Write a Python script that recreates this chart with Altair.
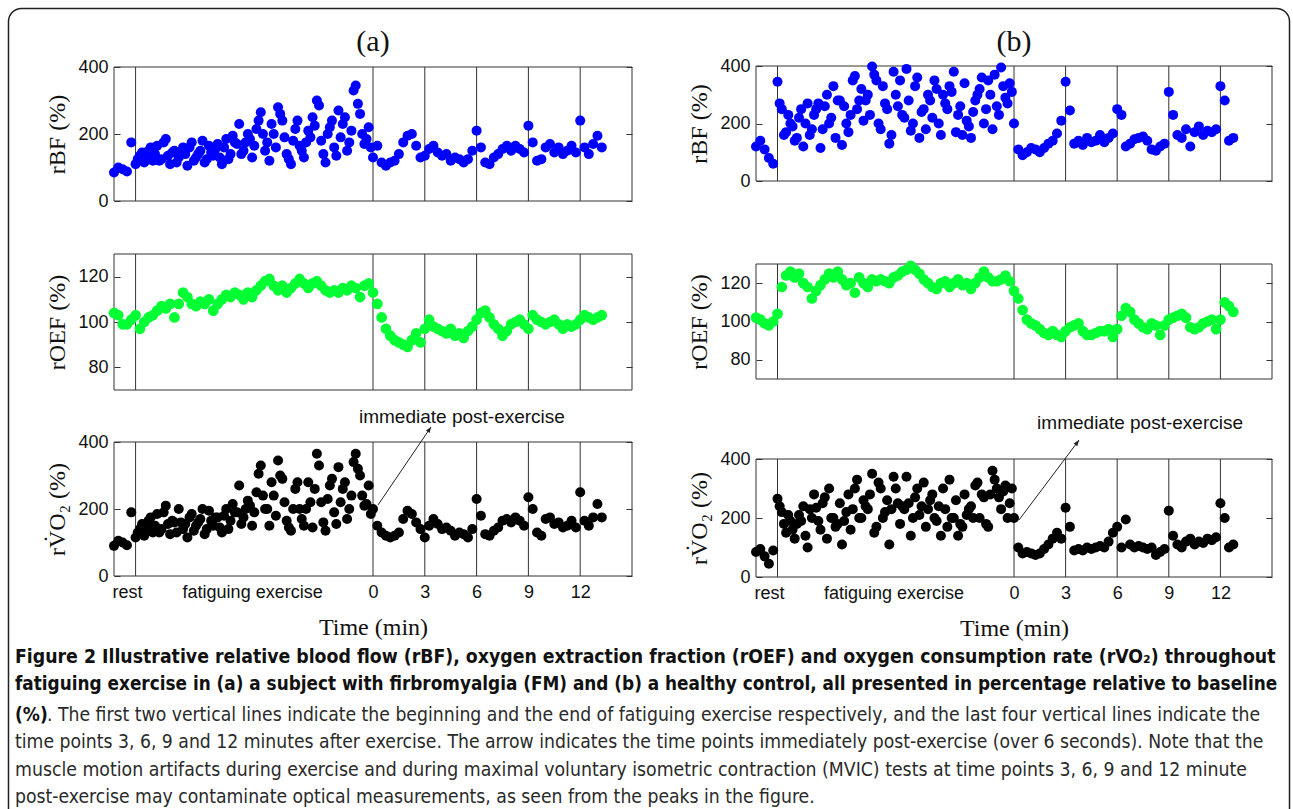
import altair as alt
import pandas as pd

# ---------------- data ----------------
T0 = -15.0      # left end of the time axis (display units, exercise compressed)
STEP = 0.25
T0_EX2 = -13.625  # start of the second (interleaved) set of exercise samples

EVENT_LINES = [-13.75, 0, 3, 6, 9, 12]
X_LABEL_VALUES = [-14.25, -7.0, 0, 3, 6, 9, 12]
X_LABEL_TEXT = ["rest", "fatiguing exercise", "0", "3", "6", "9", "12"]

# (a) subject with FM
a_rbf = [85, 100, 95, 88, 175,
         110, 135, 115, 150, 120, 165, 125, 185, 110, 150,
         130, 160, 105, 175, 130, 150, 115, 165, 135, 170,
         110, 185, 140, 175, 230, 150, 200, 130, 215, 265,
         150, 120, 200, 280, 240, 140, 110, 215, 165, 130,
         210, 250, 300, 180, 115, 220, 160, 270, 230, 150,
         210, 345, 260, 170, 220,
         130, 165, 115, 105, 115, 120, 140, 175, 195, 200,
         165, 130, 135, 155, 165, 145, 135, 140, 120, 130,
         125, 115, 125, 150, 210, 160, 115, 110, 130, 140,
         155, 165, 150, 165, 155, 145, 225, 175, 120, 125,
         160, 170, 145, 160, 140, 150, 165, 145, 240, 160,
         140, 170, 195, 160]
a_rbf_ex2 = [125, 145, 130, 160, 140, 120, 175, 135, 145, 115,
             145, 140, 160, 120, 140, 180, 125, 145, 155, 130,
             160, 125, 195, 170, 140, 175, 185, 165, 240, 200,
             175, 230, 160, 260, 190, 125, 180, 240, 150, 175,
             190, 225, 285, 140, 200, 240, 135, 190, 250, 175,
             330, 290, 200, 185, 160]
a_roef = [104, 103, 99, 99, 101, 103, 97, 100, 102, 103,
          105, 107, 106, 108, 102, 108, 113, 111, 108, 107,
          109, 108, 110, 105, 108, 110, 112, 111, 113, 112,
          110, 113, 111, 114, 116, 118, 119, 116, 114, 116,
          113, 115, 117, 119, 117, 115, 117, 118, 116, 114,
          113, 114, 113, 115, 114, 116, 115, 111, 116, 117,
          113, 108, 102, 97, 94, 92, 91, 90, 89, 92,
          95, 91, 97, 101, 98, 97, 96, 95, 97, 94,
          95, 93, 96, 98, 101, 104, 105, 102, 99, 97,
          94, 96, 99, 100, 101, 99, 97, 103, 101, 100,
          99, 100, 101, 99, 97, 99, 98, 99, 101, 103,
          102, 101, 102, 103]
a_rvo2 = [90, 105, 100, 92, 190,
          115, 140, 120, 165, 130, 185, 140, 210, 125, 160,
          200, 140, 115, 185, 150, 170, 125, 195, 150, 175,
          130, 200, 165, 190, 270, 175, 225, 150, 250, 330,
          200, 150, 240, 345, 290, 165, 135, 260, 200, 150,
          280, 145, 365, 220, 135, 270, 190, 325, 260, 170,
          240, 365, 300, 210, 270,
          200, 150, 130, 120, 115, 120, 130, 170, 195, 185,
          160, 140, 115, 150, 170, 155, 140, 145, 135, 120,
          130, 125, 115, 140, 230, 180, 125, 120, 135, 145,
          165, 170, 160, 175, 165, 150, 235, 200, 130, 120,
          170, 175, 155, 160, 145, 150, 165, 145, 250, 165,
          150, 175, 215, 175]
a_rvo2_ex2 = [130, 155, 145, 175, 150, 130, 190, 155, 165, 130,
              160, 155, 175, 135, 160, 200, 140, 165, 175, 145,
              180, 140, 215, 190, 155, 200, 210, 190, 305, 240,
              200, 280, 180, 300, 220, 145, 200, 280, 170, 200,
              220, 260, 330, 160, 230, 290, 155, 220, 280, 200,
              340, 320, 240, 215, 185]

# (b) healthy control
b_rbf = [120, 140, 110, 80, 60,
         345, 250, 170, 200, 140, 220, 120, 270, 180, 250,
         115, 260, 200, 330, 280, 125, 200, 230, 365, 280,
         210, 300, 398, 350, 180, 270, 130, 380, 260, 230,
         390, 175, 330, 150, 250, 300, 220, 320, 160, 270,
         330, 380, 230, 160, 210, 150, 280, 320, 200, 350,
         180, 260, 395, 290, 340,
         200, 110, 90, 100, 115, 110, 100, 115, 130, 140,
         165, 210, 345, 245, 130, 140, 125, 150, 135, 140,
         160, 135, 150, 165, 250, 230, 120, 130, 145, 150,
         155, 140, 110, 105, 120, 130, 310, 230, 160, 150,
         180, 120, 170, 190, 160, 175, 170, 180, 330, 280,
         140, 150]
b_rbf_ex2 = [270, 160, 230, 190, 150, 250, 200, 160, 230, 270,
             180, 300, 220, 150, 280, 260, 170, 350, 250, 320,
             280, 230, 370, 200, 330, 250, 160, 300, 350, 220,
             280, 200, 360, 240, 180, 280, 350, 200, 300, 250,
             310, 170, 260, 340, 190, 240, 300, 360, 250, 300,
             370, 230, 330, 270, 310]
b_roef = [102, 101, 99, 98, 100, 104, 118, 124, 126, 123,
          125, 120, 118, 112, 116, 119, 122, 125, 123, 126,
          122, 119, 120, 115, 123, 120, 118, 122, 121, 122,
          121, 120, 123, 124, 126, 127, 129, 127, 125, 122,
          120, 118, 117, 120, 121, 118, 120, 122, 119, 120,
          117, 120, 123, 126, 123, 121, 121, 122, 124, 121,
          116, 112, 106, 101, 99, 98, 96, 94, 93, 95,
          93, 92, 95, 97, 98, 99, 95, 93, 93, 94,
          95, 95, 96, 92, 96, 103, 107, 105, 101, 99,
          97, 96, 99, 98, 93, 98, 101, 102, 103, 104,
          102, 97, 96, 97, 99, 100, 101, 96, 101, 110,
          108, 105]
b_rvo2 = [85, 95, 70, 45, 90,
          265, 220, 150, 190, 130, 210, 240, 100, 200, 235,
          160, 270, 300, 200, 180, 110, 220, 160, 300, 200,
          260, 230, 350, 170, 300, 220, 110, 340, 250, 240,
          340, 140, 270, 210, 320, 230, 280, 190, 140, 230,
          330, 200, 140, 170, 210, 240, 310, 200, 270, 170,
          360, 300, 230, 310, 250,
          200, 100, 80, 85, 80, 75, 80, 95, 110, 130,
          150, 130, 235, 170, 90, 95, 90, 100, 95, 100,
          105, 100, 120, 150, 170, 100, 195, 110, 100, 105,
          100, 95, 100, 75, 85, 95, 225, 140, 110, 100,
          120, 130, 110, 120, 115, 130, 125, 135, 250, 200,
          100, 110]
b_rvo2_ex2 = [240, 180, 210, 160, 180, 190, 140, 230, 280, 190,
              250, 130, 200, 170, 250, 190, 280, 230, 330, 200,
              240, 280, 150, 320, 200, 260, 230, 300, 180, 230,
              250, 200, 300, 240, 170, 260, 200, 240, 300, 170,
              200, 260, 180, 280, 230, 200, 320, 280, 180, 280,
              330, 270, 290, 200, 300]

# annotation arrows: [start, end] in data units of the bottom panels
a_arrow_t = [0.29, 3.36]
a_arrow_v = [212, 445]
b_arrow_t = [0.29, 3.78]
b_arrow_v = [193, 464]
a_note_pos = (5.15, 475)
b_note_pos = (7.33, 522)

CAPTION = [
    ("bold", 15, 657, 19.3, "Figure 2 Illustrative relative blood flow (rBF), oxygen extraction fraction (rOEF) and oxygen consumption rate (rVO\u2082) throughout"),
    ("bold", 15, 684, 18.8, "fatiguing exercise in (a) a subject with firbromyalgia (FM) and (b) a healthy control, all presented in percentage relative to baseline"),
    ("bold", 15, 715, 19, "(%)"),
    ("normal", 47, 715, 19.2, ". The first two vertical lines indicate the beginning and the end of fatiguing exercise respectively, and the last four vertical lines indicate the"),
    ("normal", 15, 742, 19.2, "time points 3, 6, 9 and 12 minutes after exercise. The arrow indicates the time points immediately post-exercise (over 6 seconds). Note that the"),
    ("normal", 15, 770, 19.3, "muscle motion artifacts during exercise and during maximal voluntary isometric contraction (MVIC) tests at time points 3, 6, 9 and 12 minute"),
    ("normal", 15, 797, 19.2, "post-exercise may contaminate optical measurements, as seen from the peaks in the figure."),
]

# ---------------- styling / layout ----------------
SANS = "Liberation Sans, Arial, sans-serif"
SERIF = "Liberation Serif, Times New Roman, serif"
CAP_FONT = "Liberation Sans Narrow, Arial Narrow, DejaVu Sans Condensed, sans-serif"
INK = "#111111"
FRAME = "#333333"
W_PAGE, H_PAGE = 1293, 809
DOT = 100
DOT_OEF = 115

# plot-area boxes (left, right, top, bottom) in page pixels
BOX = {
    "a_top": (114, 632, 67, 201), "a_mid": (114, 632, 254, 390), "a_bot": (114, 632, 442, 576),
    "b_top": (756, 1272, 66, 181), "b_mid": (756, 1272, 264, 379), "b_bot": (756, 1272, 459, 577),
}

label_expr = " : ".join(
    f"datum.value == {v} ? '{s}'" for v, s in zip(X_LABEL_VALUES, X_LABEL_TEXT)
) + " : ''"


def make_panel(key, vals, extra_vals, color, ydom, yticks, ytitle, dot, bottom=False, annot=None):
    xl, xr, yt, yb = BOX[key]
    times = [T0 + STEP * i for i in range(len(vals))]
    times += [T0_EX2 + STEP * i for i in range(len(extra_vals))]
    df = pd.DataFrame({"t": times, "v": list(vals) + list(extra_vals)})
    xs = alt.Scale(domain=[-15, 15], range=[xl, xr], nice=False, zero=False)
    ys = alt.Scale(domain=ydom, range=[yb, yt], nice=False, zero=False)
    if bottom:
        xaxis = alt.Axis(orient="bottom", offset=yb - H_PAGE, values=X_LABEL_VALUES,
                         labelExpr=label_expr, ticks=False, domain=False, grid=False,
                         labelFont=SANS, labelFontSize=18, labelColor=INK, labelPadding=7,
                         labelFlush=False, labelOverlap=False,
                         title="Time (min)", titleFont=SERIF, titleFontSize=24,
                         titleFontWeight="normal", titleColor=INK, titleX=(xl + xr) / 2,
                         titleY=51, titleBaseline="middle", titleAlign="center")
    else:
        xaxis = None
    main_y = alt.Axis(orient="left", offset=-xl, values=yticks, ticks=False, domain=False,
                      grid=False, labelFont=SANS, labelFontSize=18, labelColor=INK,
                      labelPadding=6, labelFlush=False, labelOverlap=False,
                      title=ytitle, titleFont=SERIF, titleFontSize=24, titleFontWeight="normal",
                      titleColor=INK, titleAngle=270, titleX=-57, titleY=(yt + yb) / 2,
                      titleAlign="center", titleBaseline="middle")
    inner_left = alt.Axis(orient="right", offset=xl - W_PAGE, values=yticks, ticks=True,
                          tickSize=6, tickColor=FRAME, tickWidth=1, labels=False,
                          domain=False, grid=False, title=None)
    inner_right = alt.Axis(orient="left", offset=-xr, values=yticks, ticks=True,
                           tickSize=6, tickColor=FRAME, tickWidth=1, labels=False,
                           domain=False, grid=False, title=None)

    box_df = pd.DataFrame({"x0": [-15], "x1": [15], "y0": [ydom[0]], "y1": [ydom[1]]})
    layers = [
        alt.Chart(box_df).mark_rect(fill="transparent", stroke=FRAME, strokeWidth=1).encode(
            x=alt.X("x0:Q", scale=xs, axis=xaxis), x2="x1:Q",
            y=alt.Y("y0:Q", scale=ys, axis=None), y2="y1:Q"),
        alt.Chart(pd.DataFrame({"t": EVENT_LINES, "v0": ydom[0], "v1": ydom[1]}))
        .mark_rule(color=FRAME, strokeWidth=1).encode(
            x=alt.X("t:Q", scale=xs, axis=xaxis),
            y=alt.Y("v0:Q", scale=ys, axis=inner_left), y2="v1:Q"),
        alt.Chart(pd.DataFrame({"v": yticks})).mark_point(opacity=0).encode(
            y=alt.Y("v:Q", scale=ys, axis=inner_right)),
        alt.Chart(df).mark_circle(size=dot, opacity=1, color=color).encode(
            x=alt.X("t:Q", scale=xs, axis=xaxis), y=alt.Y("v:Q", scale=ys, axis=main_y)),
    ]
    if annot is not None:
        at, av, (nt, nv), ang = annot
        layers.append(
            alt.Chart(pd.DataFrame({"t": at, "v": av})).mark_line(color="#222222", strokeWidth=1)
            .encode(x=alt.X("t:Q", scale=xs, axis=xaxis), y=alt.Y("v:Q", scale=ys, axis=None)))
        layers.append(
            alt.Chart(pd.DataFrame({"t": [at[1]], "v": [av[1]]}))
            .mark_point(shape="M 0 0 L -0.55 1.4 L 0.55 1.4 Z", filled=True, size=70,
                        angle=ang, color="#222222", opacity=1)
            .encode(x=alt.X("t:Q", scale=xs, axis=xaxis), y=alt.Y("v:Q", scale=ys, axis=None)))
        layers.append(
            alt.Chart(pd.DataFrame({"t": [nt], "v": [nv]}))
            .mark_text(text="immediate post-exercise", font=SANS, fontSize=19, color=INK,
                       align="center", baseline="middle")
            .encode(x=alt.X("t:Q", scale=xs, axis=xaxis), y=alt.Y("v:Q", scale=ys, axis=None)))
    return alt.layer(*layers).resolve_axis(y="independent")


one = pd.DataFrame({"k": [0]})

frame = alt.Chart(one).mark_rect(
    fill="transparent", stroke="#222222", strokeWidth=1.5, cornerRadius=13
).encode(x=alt.value(8.5), x2=alt.value(1289.5), y=alt.value(8.5), y2=alt.value(840))

titles = [
    alt.Chart(one).mark_text(text=txt, font=SERIF, fontSize=30, color=INK,
                             align="center", baseline="middle")
    .encode(x=alt.value(cx), y=alt.value(42))
    for txt, cx in [("(a)", 373), ("(b)", 1014)]
]

caption_layers = []
for weight, cx, cy, fs, txt in CAPTION:
    caption_layers.append(
        alt.Chart(one).mark_text(
            text=txt, font=CAP_FONT, fontSize=fs, fontWeight=weight,
            color=INK if weight == "bold" else "#2a2a2a", align="left", baseline="middle"
        ).encode(x=alt.value(cx), y=alt.value(cy))
    )

RVO2_TITLE = "rV\u0307O\u2082 (%)"

panels = [
    make_panel("a_top", a_rbf, a_rbf_ex2, "#0000ff", [0, 400], [0, 200, 400], "rBF (%)", DOT),
    make_panel("a_mid", a_roef, [], "#00ff33", [70, 130], [80, 100, 120], "rOEF (%)", DOT_OEF),
    make_panel("a_bot", a_rvo2, a_rvo2_ex2, "#000000", [0, 400], [0, 200, 400], RVO2_TITLE, DOT,
               bottom=True, annot=(a_arrow_t, a_arrow_v, a_note_pos, 34)),
    make_panel("b_top", b_rbf, b_rbf_ex2, "#0000ff", [0, 400], [0, 200, 400], "rBF (%)", DOT),
    make_panel("b_mid", b_roef, [], "#00ff33", [70, 130], [80, 100, 120], "rOEF (%)", DOT_OEF),
    make_panel("b_bot", b_rvo2, b_rvo2_ex2, "#000000", [0, 400], [0, 200, 400], RVO2_TITLE, DOT,
               bottom=True, annot=(b_arrow_t, b_arrow_v, b_note_pos, 37)),
]

chart = alt.layer(frame, *titles, *caption_layers, *panels).resolve_scale(
    x="independent", y="independent"
).properties(
    width=W_PAGE, height=H_PAGE,
    autosize=alt.AutoSizeParams(type="none"),
    padding=0,
    background="white",
).configure_view(strokeWidth=0)

chart.save("out.html", embed_options={"renderer": "svg", "actions": False})
